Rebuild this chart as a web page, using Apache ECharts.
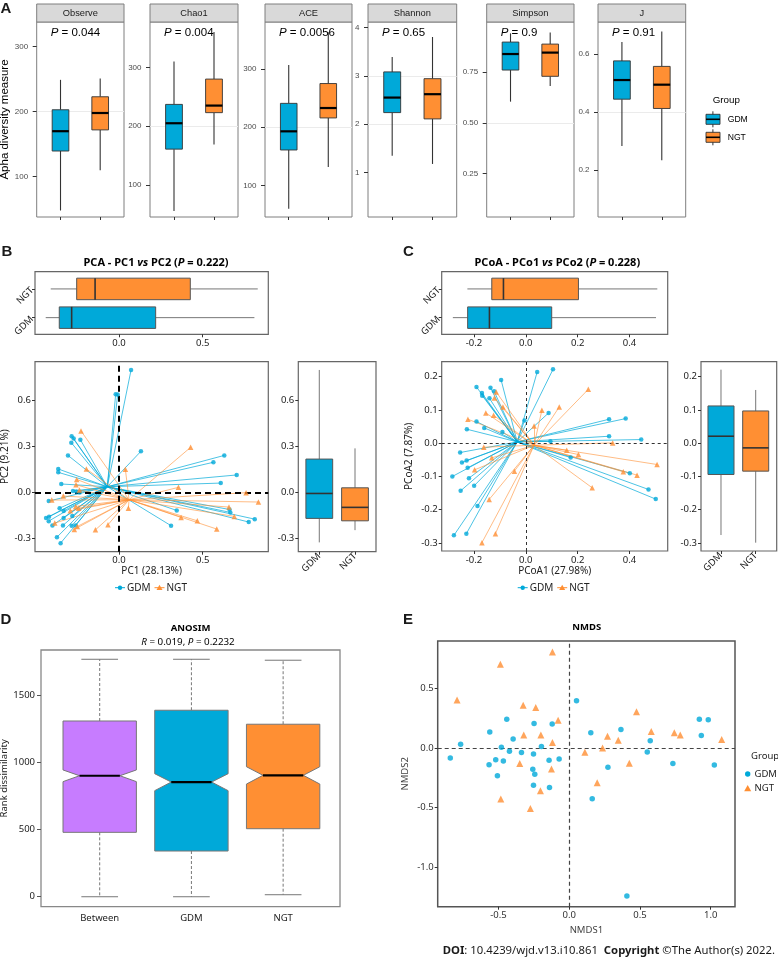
<!DOCTYPE html>
<html>
<head>
<meta charset="utf-8">
<title>Alpha and beta diversity GDM vs NGT</title>
<script src="https://cdn.jsdelivr.net/npm/echarts@6.0.0/dist/echarts.min.js"></script>
<style>
html,body{margin:0;padding:0;background:#ffffff;}
#chart{width:778px;height:961px;}
</style>
</head>
<body>
<div id="chart"></div>
<script>
// ================= DATA =================
const groups = ['GDM', 'NGT'];

// ---- Panel A: alpha diversity (low whisker, Q1, median, Q3, high whisker)
const alphaMetrics = ['Observe', 'Chao1', 'ACE', 'Shannon', 'Simpson', 'J'];
const alphaPValues = ['0.044', '0.004', '0.0056', '0.65', '0.9', '0.91'];
const alphaGDM = [
  [48, 139.5, 170, 203, 249],
  [56, 161, 205, 237, 310],
  [60, 161, 193, 241, 307],
  [1.35, 2.24, 2.55, 3.08, 3.39],
  [0.605, 0.761, 0.84, 0.899, 0.942],
  [0.283, 0.444, 0.51, 0.576, 0.641]
];
const alphaNGT = [
  [110, 172, 198, 223, 251],
  [169, 223, 235, 280, 360],
  [132, 216, 233, 275, 363],
  [1.18, 2.11, 2.62, 2.94, 3.80],
  [0.682, 0.730, 0.847, 0.889, 0.946],
  [0.234, 0.412, 0.494, 0.557, 0.677]
];
const alphaAxisMin = [38, 45.7, 46, 0.085, 0.036, 0.038];
const alphaAxisMax = [338, 377, 380.6, 4.11, 0.998, 0.710];
const alphaTickStep = [100, 100, 100, 1, 0.25, 0.2];
const alphaTickLabels = [[100, 200, 300], [100, 200, 300], [100, 200, 300], [1, 2, 3, 4], [0.25, 0.5, 0.75], [0.2, 0.4, 0.6]];
const alphaTickDecimals = [0, 0, 0, 0, 2, 1];

// ---- Panel B: PCA
const pcaGDM = [
  [0.072, 0.801], [-0.020, 0.642], [-0.008, 0.640], [-0.283, 0.367], [-0.271, 0.352], [-0.285, 0.325],
  [-0.231, 0.345], [0.131, 0.269], [-0.305, 0.242], [-0.363, 0.153], [-0.363, 0.131], [-0.345, 0.055],
  [-0.275, 0.009], [-0.255, 0.006], [-0.235, 0.000], [-0.420, -0.057], [-0.355, -0.103], [-0.331, -0.122],
  [-0.436, -0.168], [-0.418, -0.159], [-0.420, -0.188], [-0.398, -0.216], [-0.331, -0.168], [-0.279, -0.155],
  [-0.335, -0.216], [-0.283, -0.218], [-0.259, -0.216], [-0.371, -0.293], [-0.349, -0.332], [0.629, 0.242],
  [0.564, 0.197], [0.703, 0.114], [0.608, 0.061], [0.345, -0.118], [0.665, -0.131], [0.660, -0.112],
  [0.811, -0.175], [0.775, -0.194], [0.311, -0.218]
];
const pcaNGT = [
  [-0.227, 0.402], [-0.195, 0.153], [-0.253, 0.085], [-0.257, 0.050], [-0.237, 0.015], [-0.402, -0.050],
  [-0.333, -0.024], [-0.259, -0.092], [-0.291, -0.120], [-0.241, -0.103], [-0.384, -0.201], [-0.249, -0.223],
  [-0.267, -0.242], [-0.141, -0.245], [-0.066, -0.212], [0.038, 0.151], [0.056, -0.103], [0.428, 0.295],
  [0.355, 0.033], [0.759, -0.002], [0.833, -0.063], [0.657, -0.096], [0.689, -0.157], [0.371, -0.164],
  [0.468, -0.186], [0.584, -0.240]
];
const pcaCentroidGDM = [-0.070, 0.037];
const pcaCentroidNGT = [0.060, -0.048];
const pcaBoxPC1GDM = [-0.438, -0.357, -0.283, 0.219, 0.809];
const pcaBoxPC1NGT = [-0.408, -0.253, -0.143, 0.426, 0.829];
const pcaBoxPC2GDM = [-0.327, -0.170, -0.007, 0.218, 0.801];
const pcaBoxPC2NGT = [-0.247, -0.186, -0.098, 0.030, 0.288];
const pcaTicksPC1 = [0, 0.5];
const pcaTicksPC2 = [-0.3, 0, 0.3, 0.6];

// ---- Panel C: PCoA
const pcoaGDM = [
  [0.105, 0.222], [0.044, 0.214], [-0.095, 0.190], [-0.190, 0.169], [-0.169, 0.151], [-0.168, 0.143],
  [-0.136, 0.167], [-0.140, 0.135], [-0.122, 0.156], [0.088, 0.091], [-0.005, 0.068], [-0.190, 0.065],
  [-0.160, 0.046], [-0.227, 0.042], [-0.090, 0.034], [0.321, 0.072], [0.385, 0.074], [0.321, 0.021],
  [0.445, 0.011], [0.095, 0.006], [-0.253, -0.028], [-0.246, -0.058], [-0.228, -0.052], [-0.224, -0.074],
  [-0.283, -0.100], [-0.219, -0.105], [-0.199, -0.128], [-0.251, -0.143], [-0.186, -0.189], [-0.277, -0.277],
  [-0.229, -0.272], [0.173, -0.043], [0.401, -0.090], [0.473, -0.139], [0.501, -0.168]
];
const pcoaNGT = [
  [0.241, 0.162], [0.129, 0.109], [0.062, 0.099], [0.032, 0.052], [-0.114, 0.154], [-0.121, 0.136],
  [-0.088, 0.109], [-0.154, 0.091], [-0.124, 0.084], [-0.223, 0.072], [-0.162, -0.012], [-0.131, -0.044],
  [-0.197, -0.080], [-0.044, -0.084], [-0.141, -0.169], [-0.117, -0.272], [-0.169, -0.299], [0.335, 0.001],
  [0.506, -0.064], [0.158, -0.021], [0.203, -0.034], [0.376, -0.086], [0.429, -0.096], [0.256, -0.134]
];
const pcoaCentroidGDM = [-0.033, 0.004];
const pcoaCentroidNGT = [0.032, -0.006];
const pcoaBoxPCo1GDM = [-0.281, -0.224, -0.140, 0.100, 0.502];
const pcoaBoxPCo1NGT = [-0.225, -0.131, -0.086, 0.203, 0.507];
const pcoaBoxPCo2GDM = [-0.276, -0.094, 0.021, 0.112, 0.221];
const pcoaBoxPCo2NGT = [-0.299, -0.084, -0.014, 0.097, 0.160];
const pcoaTicksPCo1 = [-0.2, 0, 0.2, 0.4];
const pcoaTicksPCo2 = [-0.3, -0.2, -0.1, 0, 0.1, 0.2];

// ---- Panel D: ANOSIM (low, Q1, notch low, median, notch high, Q3, high)
const anosimGroups = ['Between', 'GDM', 'NGT'];
const anosimBetween = [0, 479, 856, 900, 943, 1307, 1766];
const anosimGDM = [0, 340, 789, 853, 915, 1387, 1766];
const anosimNGT = [15, 506, 838, 903, 967, 1283, 1759];
const anosimTicks = [0, 500, 1000, 1500];

// ---- Panel E: NMDS
const nmdsGDM = [
  [-0.840, -0.084], [-0.767, 0.031], [-0.561, 0.134], [-0.566, -0.140], [-0.519, -0.098], [-0.507, -0.232],
  [-0.479, 0.006], [-0.465, -0.109], [-0.441, 0.240], [-0.422, -0.028], [-0.396, 0.075], [-0.337, -0.039],
  [-0.252, -0.050], [-0.248, 0.204], [-0.257, -0.179], [-0.243, -0.221], [-0.252, -0.313], [-0.196, 0.011],
  [-0.142, -0.103], [-0.139, -0.332], [-0.120, 0.201], [-0.071, -0.092], [0.052, 0.394], [0.153, 0.128],
  [0.163, -0.425], [0.274, -0.162], [0.366, 0.154], [0.408, -1.240], [0.552, -0.034], [0.573, 0.061],
  [0.733, -0.131], [0.920, 0.240], [0.983, 0.235], [0.934, 0.103], [1.026, -0.142]
];
const nmdsNGT = [
  [-0.792, 0.402], [-0.486, 0.701], [-0.118, 0.802], [-0.325, 0.358], [-0.236, 0.338], [-0.078, 0.232],
  [-0.321, 0.109], [-0.200, 0.109], [-0.118, 0.045], [-0.349, -0.131], [-0.125, -0.176], [-0.483, -0.427],
  [-0.203, -0.358], [-0.274, -0.508], [0.111, -0.036], [0.236, 0.000], [0.198, -0.291], [0.271, 0.098],
  [0.347, 0.064], [0.425, -0.128], [0.476, 0.302], [0.580, 0.137], [0.743, 0.128], [0.785, 0.109],
  [1.078, 0.070]
];
const nmdsTicksX = [-0.5, 0, 0.5, 1.0];
const nmdsTicksY = [-1.0, -0.5, 0, 0.5];

// ================= STYLE / LAYOUT =================
const BLUE = '#00A9D9', ORANGE = '#FF8F33', PURPLE = '#C77CFF';
const FA = "'Liberation Sans', Arial, sans-serif";
const FB = "'Noto Sans', 'DejaVu Sans', sans-serif";
const grids = [], xAxes = [], yAxes = [], series = [], graphic = [];

function addGrid(l, t, r, b, color, width) {
  grids.push({left: l, top: t, width: r - l, height: b - t, show: true, backgroundColor: '#ffffff',
    borderColor: color, borderWidth: width, containLabel: false, outerBoundsMode: 'none'});
  return grids.length - 1;
}
function valueAxis(gi, o, defPos) {
  const ticks = o.ticks || [];
  const near = v => ticks.some(t => Math.abs(t - v) < 1e-7);
  const ax = {
    type: 'value', gridIndex: gi, min: o.min, max: o.max, position: o.position || defPos,
    axisLine: {show: false, onZero: false},
    axisTick: {show: !!o.tick, customValues: ticks, length: o.tickLen || 3,
      lineStyle: {color: o.tickColor || '#333', width: 1}},
    axisLabel: {show: !!o.label, customValues: ticks, formatter: v => near(v) ? o.fmt(v) : '',
      color: o.color || '#222', fontFamily: o.font || FB, fontSize: o.size || 9.5,
      margin: o.margin == null ? 4 : o.margin, rotate: o.rotate || 0},
    splitLine: o.split ? {show: true, showMinLine: false, showMaxLine: false, lineStyle: o.split} : {show: false},
    minorTick: {show: false}, minorSplitLine: {show: false}
  };
  if (o.step) { ax.minInterval = o.step; ax.maxInterval = o.step; }
  if (o.name) {
    ax.name = o.name; ax.nameLocation = 'middle'; ax.nameGap = o.nameGap;
    ax.nameTextStyle = {fontFamily: o.nameFont || FB, fontSize: o.nameSize || 10, color: o.nameColor || '#222'};
  }
  return ax;
}
function addX(gi, o) { xAxes.push(valueAxis(gi, o, 'bottom')); return xAxes.length - 1; }
function addY(gi, o) { yAxes.push(valueAxis(gi, o, 'left')); return yAxes.length - 1; }

function txt(x, y, text, o) {
  return {type: 'text', x: x, y: y, rotation: o.rot || 0, z: 100, silent: true,
    style: {text: text, fill: o.color || '#000', fontSize: o.size || 10, fontFamily: o.font || FB,
      fontWeight: o.weight || 'normal', fontStyle: o.fstyle || 'normal',
      align: o.align || 'left', textAlign: o.align || 'left', verticalAlign: 'middle', textVerticalAlign: 'middle',
      rich: o.rich}};
}
function richStyles(size, font, weight) {
  return {
    n: {fontSize: size, fontFamily: font, fontWeight: weight, fill: '#000', color: '#000'},
    i: {fontSize: size, fontFamily: font, fontWeight: weight, fontStyle: 'italic', fill: '#000', color: '#000'}
  };
}

// generic box renderer (values: low, q1, med, q3, high)
function makeBox(st) {
  return function (params, api) {
    const c = api.value(0);
    const v = [1, 2, 3, 4, 5].map(k => api.value(k));
    const P = val => st.horizontal ? api.coord([val, c]) : api.coord([c, val]);
    const p = v.map(P);
    const w = st.horizontal ? api.size([0, st.half * 2])[1] / 2 : api.size([st.half * 2, 0])[0] / 2;
    const off = (q, d) => st.horizontal ? [q[0], q[1] + d] : [q[0] + d, q[1]];
    const fill = st.fills[Math.round(c) - 1];
    const ln = (a, b, s) => ({type: 'line', shape: {x1: a[0], y1: a[1], x2: b[0], y2: b[1]}, style: s});
    const ws = {stroke: st.whisker, lineWidth: st.whiskerWidth};
    return {type: 'group', children: [
      ln(p[0], p[1], ws),
      ln(p[3], p[4], ws),
      {type: 'polygon', shape: {points: [off(p[1], -w), off(p[1], w), off(p[3], w), off(p[3], -w)]},
        style: {fill: fill, stroke: st.stroke, lineWidth: st.strokeWidth}},
      ln(off(p[2], -w), off(p[2], w), {stroke: st.median, lineWidth: st.medianWidth})
    ]};
  };
}
const fmtGroup = v => groups[Math.round(v) - 1];
const f1 = v => v.toFixed(1);

// ================= PANEL A =================
const A_L = [36.7, 150, 265, 368, 486.7, 598];
const A_R = [124, 238, 352, 456.7, 574, 685.7];
const majorGrid = {color: '#ebebeb', width: 1};
const minorGrid = {color: '#f5f5f5', width: 0.6};
alphaMetrics.forEach((m, i) => {
  const gi = addGrid(A_L[i], 22, A_R[i], 217, '#7f7f7f', 1);
  const xi = addX(gi, {min: 0.4, max: 2.6, step: 1, ticks: [1, 2], tick: true, tickLen: 3, split: majorGrid});
  addY(gi, {min: alphaAxisMin[i], max: alphaAxisMax[i], step: alphaTickStep[i] / 2, split: minorGrid, position: 'right'});
  const yi = addY(gi, {min: alphaAxisMin[i], max: alphaAxisMax[i], step: alphaTickStep[i],
    ticks: alphaTickLabels[i], tick: true, tickLen: 4, label: true,
    fmt: v => v.toFixed(alphaTickDecimals[i]), color: '#4d4d4d', font: FA, size: 8, margin: 8.5,
    split: majorGrid, position: 'left',
    name: i === 0 ? 'Apha diversity measure' : null, nameGap: 25, nameSize: 11.5, nameFont: FA, nameColor: '#000'});
  series.push({type: 'custom', xAxisIndex: xi, yAxisIndex: yi, silent: true, z: 3,
    renderItem: makeBox({half: 0.21, fills: [BLUE, ORANGE], stroke: '#333', strokeWidth: 0.9,
      median: '#000', medianWidth: 2.2, whisker: '#333', whiskerWidth: 1.1}),
    encode: {x: 0, y: [1, 2, 3, 4, 5]},
    data: [[1].concat(alphaGDM[i]), [2].concat(alphaNGT[i])]});
  graphic.push({type: 'rect', silent: true, z: 50,
    shape: {x: A_L[i], y: 4, width: A_R[i] - A_L[i], height: 18},
    style: {fill: '#d9d9d9', stroke: '#7f7f7f', lineWidth: 1}});
  graphic.push(txt((A_L[i] + A_R[i]) / 2, 13.3, m, {size: 9.3, font: FA, color: '#1a1a1a', align: 'center'}));
  graphic.push(txt(A_L[i] + 14, 32.5, '{i|P}{n| = ' + alphaPValues[i] + '}', {rich: richStyles(11.5, FA, 'normal')}));
});
// legend A
graphic.push(txt(712.7, 100, 'Group', {size: 9.8, font: FA}));
[[119.3, BLUE, 'GDM'], [137.3, ORANGE, 'NGT']].forEach(([cy, col, lab]) => {
  graphic.push({type: 'line', silent: true, z: 60, shape: {x1: 712.9, y1: cy - 8, x2: 712.9, y2: cy + 8}, style: {stroke: '#333', lineWidth: 1}});
  graphic.push({type: 'rect', silent: true, z: 61, shape: {x: 706, y: cy - 5, width: 14, height: 10}, style: {fill: col, stroke: '#333', lineWidth: 0.9}});
  graphic.push({type: 'line', silent: true, z: 62, shape: {x1: 706, y1: cy, x2: 720, y2: cy}, style: {stroke: '#000', lineWidth: 1.6}});
  graphic.push(txt(727.7, cy + 0.7, lab, {size: 8.6, font: FA}));
});

// ================= PANELS B & C (ordination) =================
function ordination(cfg) {
  const boxStyle = {fills: [BLUE, ORANGE], stroke: '#555', strokeWidth: 1, median: '#333', medianWidth: 1.6,
    whisker: '#777', whiskerWidth: 1, half: 0.375};
  // top box (first axis)
  const gT = addGrid(cfg.L, 271.7, cfg.R, 334.3, '#666', 1.2);
  const xT = addX(gT, {min: cfg.xMin, max: cfg.xMax, step: cfg.xStep, ticks: cfg.xTicks, tick: true, label: true, fmt: f1, size: 9.5});
  const yT = addY(gT, {min: 0.42, max: 2.6, step: 1, ticks: [1, 2], tick: true, label: true, fmt: fmtGroup, rotate: 45, size: 9.5, margin: 3});
  series.push({type: 'custom', xAxisIndex: xT, yAxisIndex: yT, silent: true,
    renderItem: makeBox(Object.assign({horizontal: true}, boxStyle)),
    encode: {y: 0, x: [1, 2, 3, 4, 5]},
    data: [[1].concat(cfg.boxXGDM), [2].concat(cfg.boxXNGT)]});
  // scatter with spider lines to group centroids
  const gS = addGrid(cfg.L, 361.7, cfg.R, cfg.B, '#666', 1.2);
  const xS = addX(gS, {min: cfg.xMin, max: cfg.xMax, step: cfg.xStep, ticks: cfg.xTicks, tick: true, label: true, fmt: f1, size: 9.5,
    name: cfg.xName, nameGap: 14, nameSize: 10});
  const yS = addY(gS, {min: cfg.yMin, max: cfg.yMax, step: cfg.yStep, ticks: cfg.yTicks, tick: true, label: true, fmt: f1, size: 9.5,
    name: cfg.yName, nameGap: cfg.yNameGap, nameSize: 10});
  [[cfg.gdm, cfg.cGDM, BLUE, 0.7], [cfg.ngt, cfg.cNGT, ORANGE, 0.6]].forEach(([pts, cen, col, op]) => {
    series.push({type: 'lines', coordinateSystem: 'cartesian2d', xAxisIndex: xS, yAxisIndex: yS, silent: true, z: 2,
      symbol: ['none', 'none'], lineStyle: {color: col, width: 1, opacity: op, curveness: 0},
      data: pts.map(p => ({coords: [p, cen]}))});
  });
  series.push({type: 'scatter', name: 'GDM', xAxisIndex: xS, yAxisIndex: yS, silent: true, z: 6, symbol: 'circle', symbolSize: 4.5,
    itemStyle: {color: BLUE}, data: cfg.gdm,
    markLine: {silent: true, symbol: ['none', 'none'], label: {show: false}, z: 3,
      lineStyle: {color: cfg.zeroColor, type: cfg.zeroDash, width: cfg.zeroWidth},
      data: [{xAxis: 0}, {yAxis: 0}]}});
  series.push({type: 'scatter', name: 'NGT', xAxisIndex: xS, yAxisIndex: yS, silent: true, z: 6, symbol: 'triangle', symbolSize: 5.5,
    itemStyle: {color: ORANGE}, data: cfg.ngt});
  // right box (second axis)
  const gR = addGrid(cfg.RL, 361.7, cfg.RR, cfg.B, '#666', 1.2);
  const xR = addX(gR, {min: cfg.rMin, max: cfg.rMax, step: 1, ticks: [1, 2], tick: true, label: true, fmt: fmtGroup, rotate: 45, size: 9.5, margin: 3});
  const yR = addY(gR, {min: cfg.yMin, max: cfg.yMax, step: cfg.yStep, ticks: cfg.yTicks, tick: true, label: true, fmt: f1, size: 9.5});
  series.push({type: 'custom', xAxisIndex: xR, yAxisIndex: yR, silent: true,
    renderItem: makeBox(boxStyle),
    encode: {x: 0, y: [1, 2, 3, 4, 5]},
    data: [[1].concat(cfg.boxYGDM), [2].concat(cfg.boxYNGT)]});
  // title and legend
  graphic.push(txt(cfg.titleX, 262.7, cfg.title, {align: 'center', rich: {
    n: {fontSize: 11, fontFamily: FB, fontWeight: 'bold', fill: '#000', color: '#000'},
    i: {fontSize: 11, fontFamily: FB, fontWeight: 'bold', fontStyle: 'italic', fill: '#000', color: '#000'}}}));
  const ly = 587.7;
  [[cfg.legX, BLUE, 'GDM', 'circle'], [cfg.legX + 39.5, ORANGE, 'NGT', 'triangle']].forEach(([lx, col, lab, sym]) => {
    graphic.push({type: 'line', silent: true, z: 60, shape: {x1: lx, y1: ly, x2: lx + 10, y2: ly}, style: {stroke: col, lineWidth: 1}});
    if (sym === 'circle') graphic.push({type: 'circle', silent: true, z: 61, shape: {cx: lx + 5, cy: ly, r: 2.2}, style: {fill: col}});
    else graphic.push({type: 'polygon', silent: true, z: 61, shape: {points: [[lx + 5, ly - 3], [lx + 8, ly + 2.2], [lx + 2, ly + 2.2]]}, style: {fill: col}});
    graphic.push(txt(lx + 12, ly, lab, {size: 10, font: FB, color: '#222'}));
  });
}

ordination({
  L: 35, R: 268.3, B: 551.7, RL: 298.3, RR: 376,
  xMin: -0.502, xMax: 0.892, xStep: 0.5, xTicks: pcaTicksPC1,
  yMin: -0.388, yMax: 0.855, yStep: 0.3, yTicks: pcaTicksPC2,
  rMin: 0.412, rMax: 2.588,
  xName: 'PC1 (28.13%)', yName: 'PC2 (9.21%)', yNameGap: 24,
  gdm: pcaGDM, ngt: pcaNGT, cGDM: pcaCentroidGDM, cNGT: pcaCentroidNGT,
  boxXGDM: pcaBoxPC1GDM, boxXNGT: pcaBoxPC1NGT, boxYGDM: pcaBoxPC2GDM, boxYNGT: pcaBoxPC2NGT,
  zeroColor: '#000', zeroDash: [6, 4], zeroWidth: 2,
  title: '{n|PCA - PC1 }{i|vs}{n| PC2 (}{i|P}{n| = 0.222)}', titleX: 156, legX: 115
});
ordination({
  L: 441.7, R: 667.7, B: 551, RL: 701, RR: 776.7,
  xMin: -0.324, xMax: 0.547, xStep: 0.2, xTicks: pcoaTicksPCo1,
  yMin: -0.324, yMax: 0.245, yStep: 0.1, yTicks: pcoaTicksPCo2,
  rMin: 0.424, rMax: 2.605,
  xName: 'PCoA1 (27.98%)', yName: 'PCoA2 (7.87%)', yNameGap: 28,
  gdm: pcoaGDM, ngt: pcoaNGT, cGDM: pcoaCentroidGDM, cNGT: pcoaCentroidNGT,
  boxXGDM: pcoaBoxPCo1GDM, boxXNGT: pcoaBoxPCo1NGT, boxYGDM: pcoaBoxPCo2GDM, boxYNGT: pcoaBoxPCo2NGT,
  zeroColor: '#333', zeroDash: [3, 3], zeroWidth: 1,
  title: '{n|PCoA - PCo1 }{i|vs}{n| PCo2 (}{i|P}{n| = 0.228)}', titleX: 557.3, legX: 517.7
});

// ================= PANEL D: ANOSIM =================
const D_COLORS = [PURPLE, BLUE, ORANGE];
function notchBox(params, api) {
  const c = api.value(0);
  const v = [1, 2, 3, 4, 5, 6, 7].map(k => api.value(k));
  const y = v.map(val => api.coord([c, val])[1]);
  const x = api.coord([c, v[3]])[0];
  const w = api.size([0.8, 0])[0] / 2;
  const nw = w * 0.55, cw = w * 0.5;
  const fill = D_COLORS[Math.round(c) - 1];
  const wd = {stroke: '#777', lineWidth: 1, lineDash: [3, 2]};
  const cap = {stroke: '#777', lineWidth: 1};
  const pts = [[x - w, y[1]], [x - w, y[2]], [x - nw, y[3]], [x - w, y[4]], [x - w, y[5]],
    [x + w, y[5]], [x + w, y[4]], [x + nw, y[3]], [x + w, y[2]], [x + w, y[1]]];
  return {type: 'group', children: [
    {type: 'line', shape: {x1: x, y1: y[5], x2: x, y2: y[6]}, style: wd},
    {type: 'line', shape: {x1: x, y1: y[1], x2: x, y2: y[0]}, style: wd},
    {type: 'line', shape: {x1: x - cw, y1: y[6], x2: x + cw, y2: y[6]}, style: cap},
    {type: 'line', shape: {x1: x - cw, y1: y[0], x2: x + cw, y2: y[0]}, style: cap},
    {type: 'polygon', shape: {points: pts}, style: {fill: fill, stroke: '#777', lineWidth: 1}},
    {type: 'line', shape: {x1: x - nw, y1: y[3], x2: x + nw, y2: y[3]}, style: {stroke: '#000', lineWidth: 2.2}}
  ]};
}
(function () {
  const g = addGrid(41, 650, 340, 906.7, '#888', 1.3);
  const xi = addX(g, {min: 0.36, max: 3.62, step: 1, ticks: [1, 2, 3], tick: false, label: true,
    fmt: v => anosimGroups[Math.round(v) - 1], size: 9.5, margin: 7});
  const yi = addY(g, {min: -74, max: 1835, step: 500, ticks: anosimTicks, tick: true, tickLen: 4, tickColor: '#555', label: true,
    fmt: v => String(Math.round(v)), size: 9.5, margin: 6,
    name: 'Rank dissimilarity', nameGap: 31, nameSize: 9.5});
  series.push({type: 'custom', xAxisIndex: xi, yAxisIndex: yi, silent: true, renderItem: notchBox,
    encode: {x: 0, y: [1, 2, 3, 4, 5, 6, 7]},
    data: [[1].concat(anosimBetween), [2].concat(anosimGDM), [3].concat(anosimNGT)]});
  graphic.push(txt(190.5, 628.3, 'ANOSIM', {size: 9.5, weight: 'bold', align: 'center'}));
  graphic.push(txt(188, 642.7, '{i|R}{n| = 0.019, }{i|P}{n| = 0.2232}', {align: 'center', rich: richStyles(9.8, FB, 'normal')}));
})();

// ================= PANEL E: NMDS =================
(function () {
  const g = addGrid(437.7, 641, 735, 906.7, '#555', 1.5);
  const xi = addX(g, {min: -0.929, max: 1.172, step: 0.5, ticks: nmdsTicksX, tick: true, tickLen: 3, label: true, fmt: f1,
    size: 9.5, color: '#333', name: 'NMDS1', nameGap: 19, nameSize: 9.5, nameColor: '#444'});
  const yi = addY(g, {min: -1.329, max: 0.895, step: 0.5, ticks: nmdsTicksY, tick: true, tickLen: 3, label: true, fmt: f1,
    size: 9.5, color: '#333', name: 'NMDS2', nameGap: 27, nameSize: 9.5, nameColor: '#444'});
  series.push({type: 'scatter', name: 'GDM', xAxisIndex: xi, yAxisIndex: yi, silent: true, z: 6, symbol: 'circle', symbolSize: 5.5,
    itemStyle: {color: BLUE}, data: nmdsGDM,
    markLine: {silent: true, symbol: ['none', 'none'], label: {show: false}, z: 3,
      lineStyle: {color: '#444', type: [4, 3], width: 1.2}, data: [{xAxis: 0}, {yAxis: 0}]}});
  series.push({type: 'scatter', name: 'NGT', xAxisIndex: xi, yAxisIndex: yi, silent: true, z: 6, symbol: 'triangle', symbolSize: 7,
    itemStyle: {color: ORANGE}, data: nmdsNGT});
  graphic.push(txt(586.7, 627.7, 'NMDS', {size: 9.5, weight: 'bold', align: 'center'}));
  graphic.push(txt(751, 756.7, 'Group', {size: 9.5, color: '#222'}));
  graphic.push({type: 'circle', silent: true, z: 60, shape: {cx: 747.7, cy: 774, r: 2.7}, style: {fill: BLUE}});
  graphic.push(txt(754.5, 774, 'GDM', {size: 9.5, color: '#222'}));
  graphic.push({type: 'polygon', silent: true, z: 60, shape: {points: [[747.7, 785], [751.2, 791.2], [744.2, 791.2]]}, style: {fill: ORANGE}});
  graphic.push(txt(754.5, 788.7, 'NGT', {size: 9.5, color: '#222'}));
})();

// ================= LETTERS & FOOTER =================
[['A', 0.5, 9.3], ['B', 1.5, 251.7], ['C', 403, 251.7], ['D', 0.5, 619.5], ['E', 403, 619.5]].forEach(([t, x, y]) => {
  graphic.push(txt(x, y, t, {size: 15, weight: 'bold', font: FA, color: '#1a1a1a'}));
});
graphic.push(txt(775, 951, '{b|DOI}{n|: 10.4239/wjd.v13.i10.861  }{b|Copyright}{n| \u00A9The Author(s) 2022.}', {align: 'right', rich: {
  b: {fontSize: 11.3, fontFamily: FB, fontWeight: 'bold', fill: '#1a1a1a', color: '#1a1a1a'},
  n: {fontSize: 11.3, fontFamily: FB, fill: '#1a1a1a', color: '#1a1a1a'}}}));

// ================= CHART =================
const chart = echarts.init(document.getElementById('chart'), null, {renderer: 'canvas', width: 778, height: 961});
chart.setOption({
  animation: false,
  backgroundColor: '#ffffff',
  textStyle: {fontFamily: FB},
  grid: grids, xAxis: xAxes, yAxis: yAxes, series: series, graphic: graphic
});
</script>
</body>
</html>
